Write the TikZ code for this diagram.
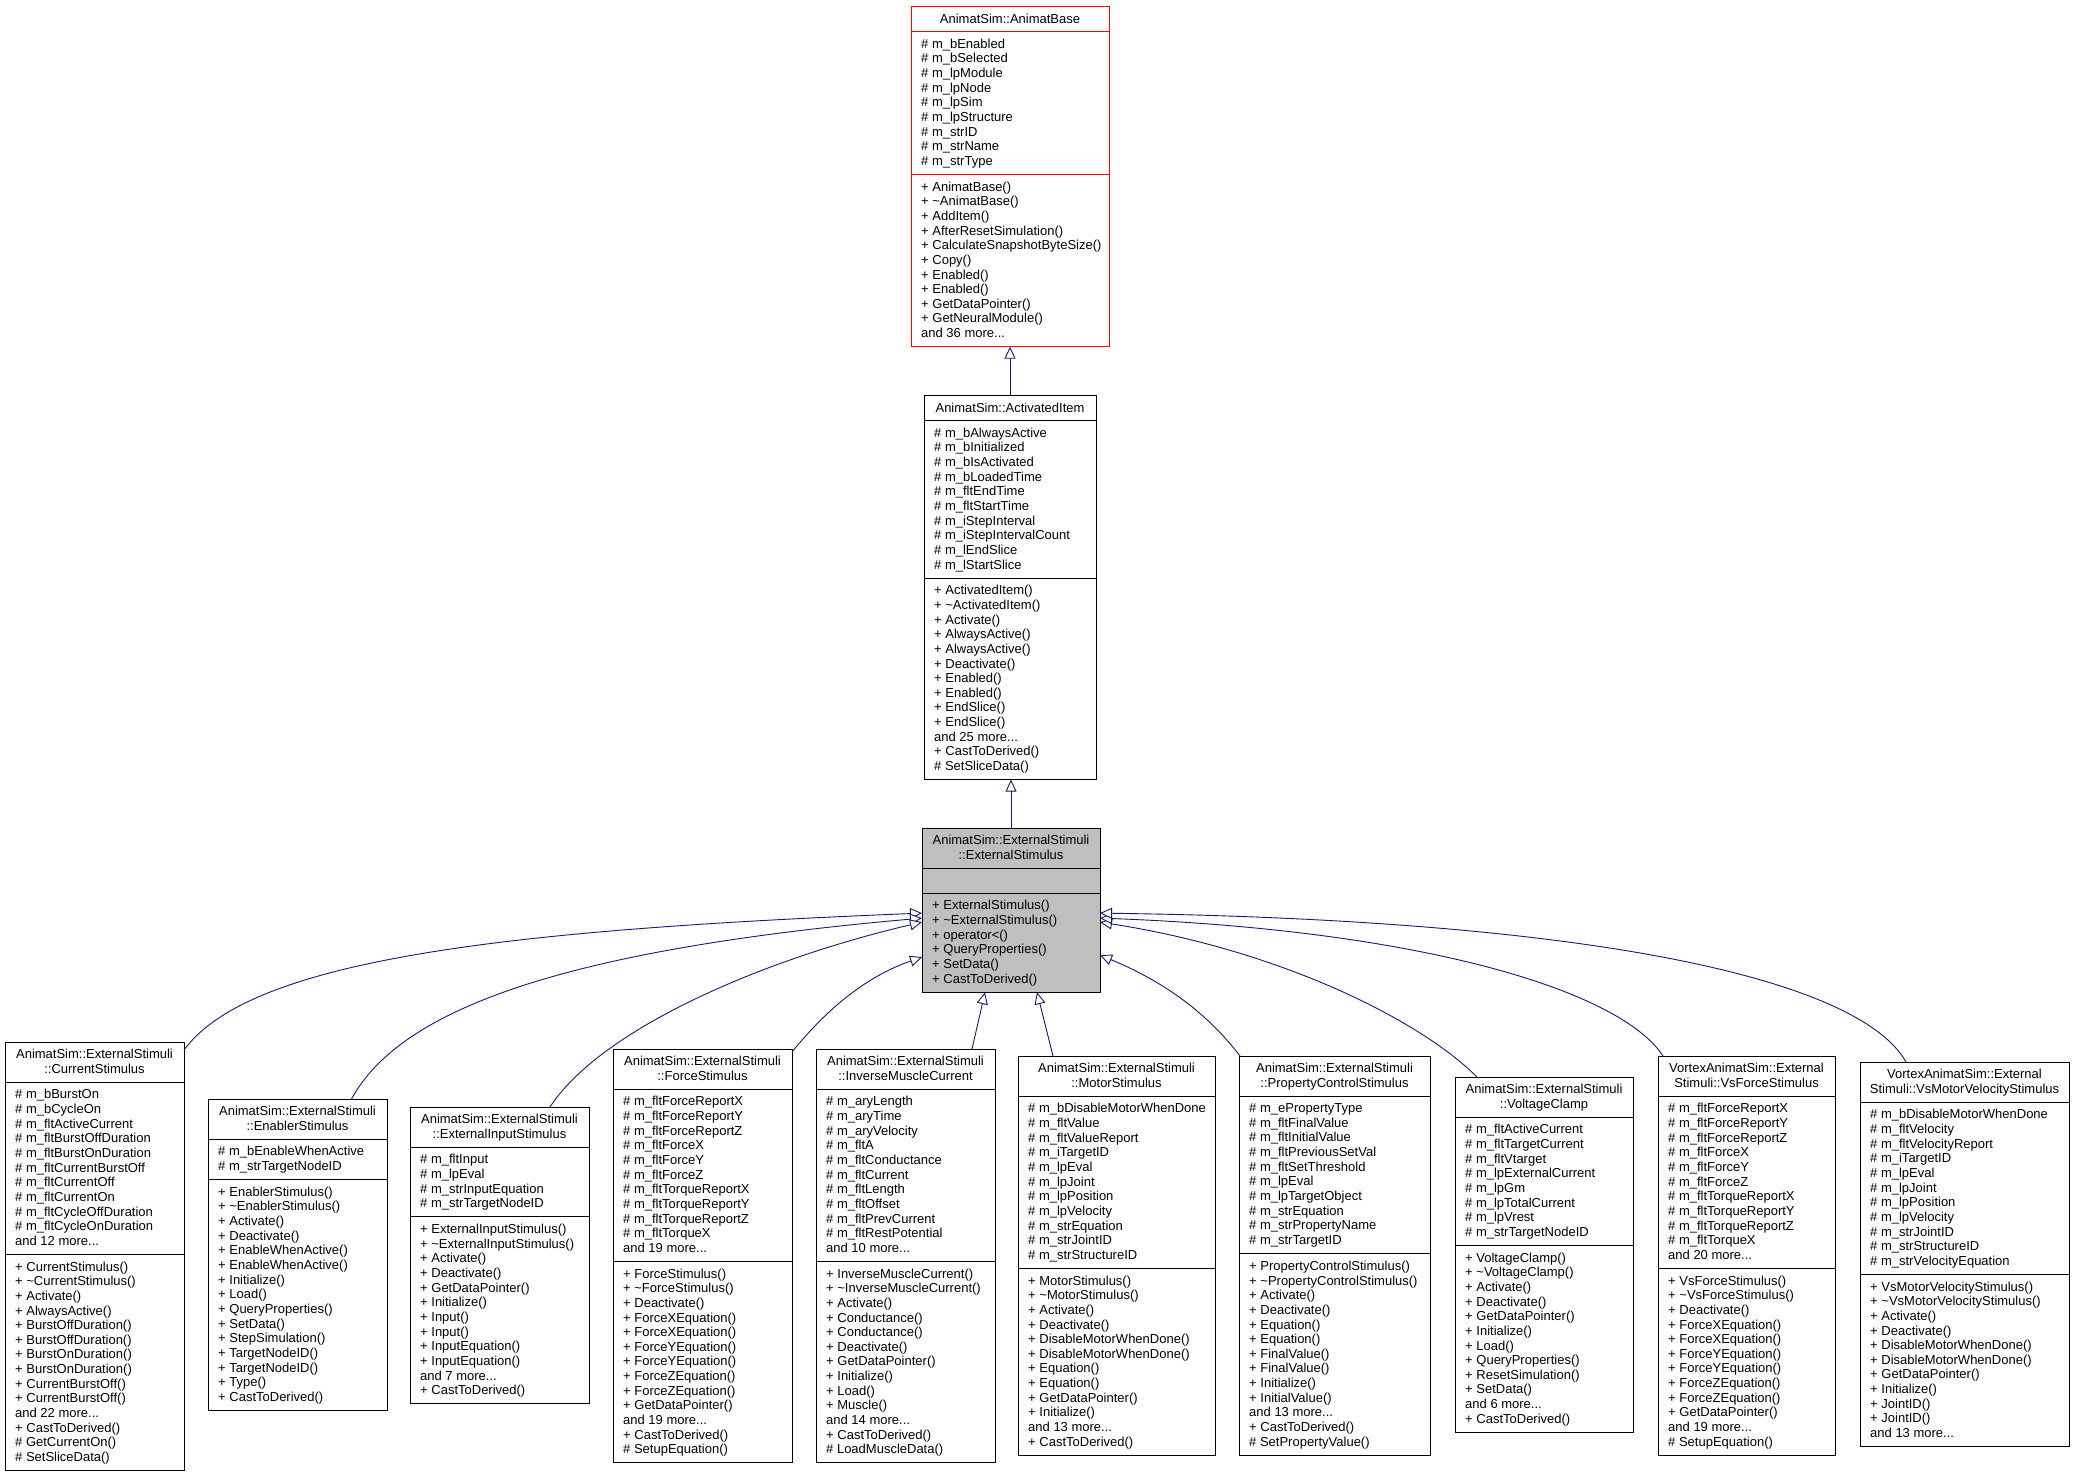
\documentclass[tikz,border=0pt]{standalone}
\usepackage{fontspec}
\setmainfont{Liberation Sans}
\usetikzlibrary{arrows.meta}
\definecolor{edgeblue}{HTML}{191970}
\definecolor{stimgray}{HTML}{BFBFBF}
\tikzset{
  classbox/.style={draw=black, line width=1pt, fill=white, inner sep=0pt, outer sep=0pt},
  rootbox/.style={classbox, draw=red},
  curbox/.style={classbox, fill=stimgray},
  ctitle/.style={font=\fontsize{13}{14.65}\selectfont, align=center, inner sep=0pt, anchor=north, execute at begin node=\strut},
  cmemb/.style={font=\fontsize{13}{14.65}\selectfont, align=left, inner sep=0pt, anchor=north west, execute at begin node=\strut},
  inherit/.style={draw=edgeblue, line width=0.9pt, -{Triangle[open, length=12pt, width=11pt, fill=white]}},
}
% name, xl, xr, ytop, n attrs, n methods, box style, separator colour, n title lines
\newcommand\umlframe[9]{%
  \pgfmathsetmacro\umlSA{#4+14.65*#9+11}%
  \pgfmathsetmacro\umlSM{\umlSA+ifthenelse(#5==0,25,14.65*#5+11)}%
  \pgfmathsetmacro\umlB{\umlSM+14.65*#6+11}%
  \pgfmathsetmacro\umlW{#3-#2}%
  \pgfmathsetmacro\umlH{\umlB-#4}%
  \node[#7, minimum width=\umlW pt, minimum height=\umlH pt, anchor=north west] (#1) at (#2,#4) {};
  \coordinate (#1-t) at ({(#2+#3)/2},#4);
  \coordinate (#1-a) at (#2,\umlSA);
  \coordinate (#1-m) at (#2,\umlSM);
  \draw[draw=#8, line width=1pt] (#2,\umlSA) -- (#3,\umlSA) (#2,\umlSM) -- (#3,\umlSM);
}
\newcommand\tld{\textasciitilde}
\begin{document}
\begin{tikzpicture}[x=1pt, y=-1pt]
\fill[white] (0,0) rectangle (2076,1476);
\useasboundingbox (0,0) rectangle (2076,1476);

% ---------- AnimatBase ----------
\umlframe{ab}{911}{1109}{6}{9}{11}{rootbox}{red}{1}
\node[ctitle] (ab-title) at ([yshift=-7pt]ab-t) {AnimatSim::AnimatBase};
\node[cmemb] (ab-attr) at ([xshift=10pt,yshift=-7pt]ab-a) {\# m\_bEnabled\\\# m\_bSelected\\\# m\_lpModule\\\# m\_lpNode\\\# m\_lpSim\\\# m\_lpStructure\\\# m\_strID\\\# m\_strName\\\# m\_strType};
\node[cmemb] (ab-meth) at ([xshift=10pt,yshift=-7pt]ab-m) {+ AnimatBase()\\+ \tld AnimatBase()\\+ AddItem()\\+ AfterResetSimulation()\\+ CalculateSnapshotByteSize()\\+ Copy()\\+ Enabled()\\+ Enabled()\\+ GetDataPointer()\\+ GetNeuralModule()\\and 36 more...};

% ---------- ActivatedItem ----------
\umlframe{ai}{924}{1096}{395}{10}{13}{classbox}{black}{1}
\node[ctitle] (ai-title) at ([yshift=-7pt]ai-t) {AnimatSim::ActivatedItem};
\node[cmemb] (ai-attr) at ([xshift=10pt,yshift=-7pt]ai-a) {\# m\_bAlwaysActive\\\# m\_bInitialized\\\# m\_bIsActivated\\\# m\_bLoadedTime\\\# m\_fltEndTime\\\# m\_fltStartTime\\\# m\_iStepInterval\\\# m\_iStepIntervalCount\\\# m\_lEndSlice\\\# m\_lStartSlice};
\node[cmemb] (ai-meth) at ([xshift=10pt,yshift=-7pt]ai-m) {+ ActivatedItem()\\+ \tld ActivatedItem()\\+ Activate()\\+ AlwaysActive()\\+ AlwaysActive()\\+ Deactivate()\\+ Enabled()\\+ Enabled()\\+ EndSlice()\\+ EndSlice()\\and 25 more...\\+ CastToDerived()\\\# SetSliceData()};

% ---------- ExternalStimulus ----------
\umlframe{es}{922}{1100}{828}{0}{6}{curbox}{black}{2}
\node[ctitle] (es-title) at ([yshift=-7pt]es-t) {AnimatSim::ExternalStimuli\\::ExternalStimulus};
\node[cmemb] (es-meth) at ([xshift=10pt,yshift=-7pt]es-m) {+ ExternalStimulus()\\+ \tld ExternalStimulus()\\+ operator<()\\+ QueryProperties()\\+ SetData()\\+ CastToDerived()};

% ---------- CurrentStimulus ----------
\umlframe{cs}{5}{184}{1042}{11}{14}{classbox}{black}{2}
\node[ctitle] (cs-title) at ([yshift=-7pt]cs-t) {AnimatSim::ExternalStimuli\\::CurrentStimulus};
\node[cmemb] (cs-attr) at ([xshift=10pt,yshift=-7pt]cs-a) {\# m\_bBurstOn\\\# m\_bCycleOn\\\# m\_fltActiveCurrent\\\# m\_fltBurstOffDuration\\\# m\_fltBurstOnDuration\\\# m\_fltCurrentBurstOff\\\# m\_fltCurrentOff\\\# m\_fltCurrentOn\\\# m\_fltCycleOffDuration\\\# m\_fltCycleOnDuration\\and 12 more...};
\node[cmemb] (cs-meth) at ([xshift=10pt,yshift=-7pt]cs-m) {+ CurrentStimulus()\\+ \tld CurrentStimulus()\\+ Activate()\\+ AlwaysActive()\\+ BurstOffDuration()\\+ BurstOffDuration()\\+ BurstOnDuration()\\+ BurstOnDuration()\\+ CurrentBurstOff()\\+ CurrentBurstOff()\\and 22 more...\\+ CastToDerived()\\\# GetCurrentOn()\\\# SetSliceData()};

% ---------- EnablerStimulus ----------
\umlframe{en}{208}{387}{1099}{2}{15}{classbox}{black}{2}
\node[ctitle] (en-title) at ([yshift=-7pt]en-t) {AnimatSim::ExternalStimuli\\::EnablerStimulus};
\node[cmemb] (en-attr) at ([xshift=10pt,yshift=-7pt]en-a) {\# m\_bEnableWhenActive\\\# m\_strTargetNodeID};
\node[cmemb] (en-meth) at ([xshift=10pt,yshift=-7pt]en-m) {+ EnablerStimulus()\\+ \tld EnablerStimulus()\\+ Activate()\\+ Deactivate()\\+ EnableWhenActive()\\+ EnableWhenActive()\\+ Initialize()\\+ Load()\\+ QueryProperties()\\+ SetData()\\+ StepSimulation()\\+ TargetNodeID()\\+ TargetNodeID()\\+ Type()\\+ CastToDerived()};

% ---------- ExternalInputStimulus ----------
\umlframe{ei}{410}{589}{1107}{4}{12}{classbox}{black}{2}
\node[ctitle] (ei-title) at ([yshift=-7pt]ei-t) {AnimatSim::ExternalStimuli\\::ExternalInputStimulus};
\node[cmemb] (ei-attr) at ([xshift=10pt,yshift=-7pt]ei-a) {\# m\_fltInput\\\# m\_lpEval\\\# m\_strInputEquation\\\# m\_strTargetNodeID};
\node[cmemb] (ei-meth) at ([xshift=10pt,yshift=-7pt]ei-m) {+ ExternalInputStimulus()\\+ \tld ExternalInputStimulus()\\+ Activate()\\+ Deactivate()\\+ GetDataPointer()\\+ Initialize()\\+ Input()\\+ Input()\\+ InputEquation()\\+ InputEquation()\\and 7 more...\\+ CastToDerived()};

% ---------- ForceStimulus ----------
\umlframe{fs}{613}{792}{1049}{11}{13}{classbox}{black}{2}
\node[ctitle] (fs-title) at ([yshift=-7pt]fs-t) {AnimatSim::ExternalStimuli\\::ForceStimulus};
\node[cmemb] (fs-attr) at ([xshift=10pt,yshift=-7pt]fs-a) {\# m\_fltForceReportX\\\# m\_fltForceReportY\\\# m\_fltForceReportZ\\\# m\_fltForceX\\\# m\_fltForceY\\\# m\_fltForceZ\\\# m\_fltTorqueReportX\\\# m\_fltTorqueReportY\\\# m\_fltTorqueReportZ\\\# m\_fltTorqueX\\and 19 more...};
\node[cmemb] (fs-meth) at ([xshift=10pt,yshift=-7pt]fs-m) {+ ForceStimulus()\\+ \tld ForceStimulus()\\+ Deactivate()\\+ ForceXEquation()\\+ ForceXEquation()\\+ ForceYEquation()\\+ ForceYEquation()\\+ ForceZEquation()\\+ ForceZEquation()\\+ GetDataPointer()\\and 19 more...\\+ CastToDerived()\\\# SetupEquation()};

% ---------- InverseMuscleCurrent ----------
\umlframe{im}{816}{995}{1049}{11}{13}{classbox}{black}{2}
\node[ctitle] (im-title) at ([yshift=-7pt]im-t) {AnimatSim::ExternalStimuli\\::InverseMuscleCurrent};
\node[cmemb] (im-attr) at ([xshift=10pt,yshift=-7pt]im-a) {\# m\_aryLength\\\# m\_aryTime\\\# m\_aryVelocity\\\# m\_fltA\\\# m\_fltConductance\\\# m\_fltCurrent\\\# m\_fltLength\\\# m\_fltOffset\\\# m\_fltPrevCurrent\\\# m\_fltRestPotential\\and 10 more...};
\node[cmemb] (im-meth) at ([xshift=10pt,yshift=-7pt]im-m) {+ InverseMuscleCurrent()\\+ \tld InverseMuscleCurrent()\\+ Activate()\\+ Conductance()\\+ Conductance()\\+ Deactivate()\\+ GetDataPointer()\\+ Initialize()\\+ Load()\\+ Muscle()\\and 14 more...\\+ CastToDerived()\\\# LoadMuscleData()};

% ---------- MotorStimulus ----------
\umlframe{ms}{1018}{1215}{1056}{11}{12}{classbox}{black}{2}
\node[ctitle] (ms-title) at ([yshift=-7pt]ms-t) {AnimatSim::ExternalStimuli\\::MotorStimulus};
\node[cmemb] (ms-attr) at ([xshift=10pt,yshift=-7pt]ms-a) {\# m\_bDisableMotorWhenDone\\\# m\_fltValue\\\# m\_fltValueReport\\\# m\_iTargetID\\\# m\_lpEval\\\# m\_lpJoint\\\# m\_lpPosition\\\# m\_lpVelocity\\\# m\_strEquation\\\# m\_strJointID\\\# m\_strStructureID};
\node[cmemb] (ms-meth) at ([xshift=10pt,yshift=-7pt]ms-m) {+ MotorStimulus()\\+ \tld MotorStimulus()\\+ Activate()\\+ Deactivate()\\+ DisableMotorWhenDone()\\+ DisableMotorWhenDone()\\+ Equation()\\+ Equation()\\+ GetDataPointer()\\+ Initialize()\\and 13 more...\\+ CastToDerived()};

% ---------- PropertyControlStimulus ----------
\umlframe{pc}{1239}{1430}{1056}{10}{13}{classbox}{black}{2}
\node[ctitle] (pc-title) at ([yshift=-7pt]pc-t) {AnimatSim::ExternalStimuli\\::PropertyControlStimulus};
\node[cmemb] (pc-attr) at ([xshift=10pt,yshift=-7pt]pc-a) {\# m\_ePropertyType\\\# m\_fltFinalValue\\\# m\_fltInitialValue\\\# m\_fltPreviousSetVal\\\# m\_fltSetThreshold\\\# m\_lpEval\\\# m\_lpTargetObject\\\# m\_strEquation\\\# m\_strPropertyName\\\# m\_strTargetID};
\node[cmemb] (pc-meth) at ([xshift=10pt,yshift=-7pt]pc-m) {+ PropertyControlStimulus()\\+ \tld PropertyControlStimulus()\\+ Activate()\\+ Deactivate()\\+ Equation()\\+ Equation()\\+ FinalValue()\\+ FinalValue()\\+ Initialize()\\+ InitialValue()\\and 13 more...\\+ CastToDerived()\\\# SetPropertyValue()};

% ---------- VoltageClamp ----------
\umlframe{vc}{1455}{1633}{1077}{8}{12}{classbox}{black}{2}
\node[ctitle] (vc-title) at ([yshift=-7pt]vc-t) {AnimatSim::ExternalStimuli\\::VoltageClamp};
\node[cmemb] (vc-attr) at ([xshift=10pt,yshift=-7pt]vc-a) {\# m\_fltActiveCurrent\\\# m\_fltTargetCurrent\\\# m\_fltVtarget\\\# m\_lpExternalCurrent\\\# m\_lpGm\\\# m\_lpTotalCurrent\\\# m\_lpVrest\\\# m\_strTargetNodeID};
\node[cmemb] (vc-meth) at ([xshift=10pt,yshift=-7pt]vc-m) {+ VoltageClamp()\\+ \tld VoltageClamp()\\+ Activate()\\+ Deactivate()\\+ GetDataPointer()\\+ Initialize()\\+ Load()\\+ QueryProperties()\\+ ResetSimulation()\\+ SetData()\\and 6 more...\\+ CastToDerived()};

% ---------- VsForceStimulus ----------
\umlframe{vf}{1658}{1835}{1056}{11}{12}{classbox}{black}{2}
\node[ctitle] (vf-title) at ([yshift=-7pt]vf-t) {VortexAnimatSim::External\\Stimuli::VsForceStimulus};
\node[cmemb] (vf-attr) at ([xshift=10pt,yshift=-7pt]vf-a) {\# m\_fltForceReportX\\\# m\_fltForceReportY\\\# m\_fltForceReportZ\\\# m\_fltForceX\\\# m\_fltForceY\\\# m\_fltForceZ\\\# m\_fltTorqueReportX\\\# m\_fltTorqueReportY\\\# m\_fltTorqueReportZ\\\# m\_fltTorqueX\\and 20 more...};
\node[cmemb] (vf-meth) at ([xshift=10pt,yshift=-7pt]vf-m) {+ VsForceStimulus()\\+ \tld VsForceStimulus()\\+ Deactivate()\\+ ForceXEquation()\\+ ForceXEquation()\\+ ForceYEquation()\\+ ForceYEquation()\\+ ForceZEquation()\\+ ForceZEquation()\\+ GetDataPointer()\\and 19 more...\\\# SetupEquation()};

% ---------- VsMotorVelocityStimulus ----------
\umlframe{vm}{1860}{2069}{1062}{11}{11}{classbox}{black}{2}
\node[ctitle] (vm-title) at ([yshift=-7pt]vm-t) {VortexAnimatSim::External\\Stimuli::VsMotorVelocityStimulus};
\node[cmemb] (vm-attr) at ([xshift=10pt,yshift=-7pt]vm-a) {\# m\_bDisableMotorWhenDone\\\# m\_fltVelocity\\\# m\_fltVelocityReport\\\# m\_iTargetID\\\# m\_lpEval\\\# m\_lpJoint\\\# m\_lpPosition\\\# m\_lpVelocity\\\# m\_strJointID\\\# m\_strStructureID\\\# m\_strVelocityEquation};
\node[cmemb] (vm-meth) at ([xshift=10pt,yshift=-7pt]vm-m) {+ VsMotorVelocityStimulus()\\+ \tld VsMotorVelocityStimulus()\\+ Activate()\\+ Deactivate()\\+ DisableMotorWhenDone()\\+ DisableMotorWhenDone()\\+ GetDataPointer()\\+ Initialize()\\+ JointID()\\+ JointID()\\and 13 more...};

% ---------- inheritance connectors ----------
\draw[inherit] (ai.north) -- (ab.south);
\draw[inherit] (es.north) -- (es.north |- ai.south);
\draw[inherit] ([yshift=-8pt]cs.north east) .. controls (250,960) and (500,930) .. ([yshift=-3pt]es.west);
\draw[inherit] ([xshift=54pt]en.north) .. controls (400,1010) and (560,950) .. ([yshift=-8pt]es.west);
\draw[inherit] ([xshift=50.5pt]ei.north) .. controls (600,1030) and (760,960) .. ([yshift=-12pt]es.west);
\draw[inherit] ([yshift=-3pt]fs.north east) .. controls (830,1005) and (870,975) .. ([yshift=-47pt]es.west);
\draw[inherit] ([xshift=66.5pt]im.north) -- ([xshift=-26pt]es.south);
\draw[inherit] ([xshift=-63.5pt]ms.north) -- ([xshift=26pt]es.south);
\draw[inherit] ([xshift=1pt]pc.north west) .. controls (1205,1010) and (1160,980) .. ([yshift=-45pt]es.east);
\draw[inherit] ([xshift=22pt]vc.north west) .. controls (1420,1020) and (1280,950) .. ([yshift=-12pt]es.east);
\draw[inherit] ([xshift=5pt]vf.north west) .. controls (1620,990) and (1420,930) .. ([yshift=-8pt]es.east);
\draw[inherit] ([xshift=46pt]vm.north west) .. controls (1860,980) and (1600,920) .. ([yshift=-3pt]es.east);
\end{tikzpicture}
\end{document}
